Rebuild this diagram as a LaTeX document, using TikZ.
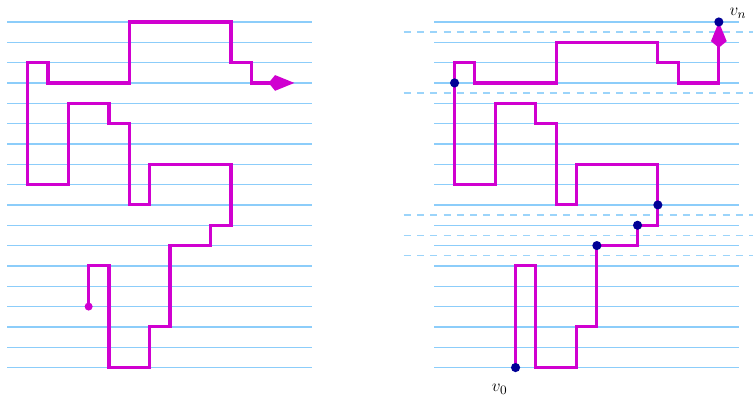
\documentclass[tikz,border=0pt]{standalone}
\usetikzlibrary{arrows.meta}
\definecolor{gridblue}{RGB}{140,205,250}
\definecolor{cutblue}{RGB}{155,212,250}
\definecolor{walk}{RGB}{208,0,208}
\definecolor{vertex}{RGB}{0,0,150}
\begin{document}
\begin{tikzpicture}[x=0.5cm,y=0.5cm,
  gridline/.style={gridblue, line width=0.9pt},
  cutline/.style={cutblue, line width=1pt, dash pattern=on 4.9pt off 4.4pt},
  walkpath/.style={walk, line width=2.2pt, line join=miter},
  kitetip/.style={-{Kite[length=18pt,width=11pt,inset=4.5pt]}},
  vdot/.style={circle, fill=vertex, inner sep=0pt, minimum size=6.4pt},
  sdot/.style={circle, fill=walk, inner sep=0pt, minimum size=5.6pt},
  lbl/.style={font=\fontsize{13}{15}\selectfont, inner sep=0pt}]
\useasboundingbox (-0.36,-1.43) rectangle (36.68,18.08);

% horizontal levels of both panels
\foreach \r in {0,...,17} {
  \draw[gridline] (0,\r) -- (15,\r);
  \draw[gridline] (21,\r) -- (36,\r);
}
% dashed cuts between levels (right panel)
\foreach \r in {5.5,6.5,7.5,13.5,16.5}
  \draw[cutline] (19.5,\r) -- (36.68,\r);

% left panel: the walk
\coordinate (s) at (4,3);
\draw[walkpath, kitetip] (s) -- (4,5) -- (5,5) -- (5,0) -- (7,0) -- (7,2) -- (8,2) -- (8,6)
  -- (10,6) -- (10,7) -- (11,7) -- (11,10) -- (7,10) -- (7,8) -- (6,8) -- (6,12)
  -- (5,12) -- (5,13) -- (3,13) -- (3,9) -- (1,9) -- (1,15) -- (2,15) -- (2,14)
  -- (6,14) -- (6,17) -- (11,17) -- (11,15) -- (12,15) -- (12,14) -- (14.12,14);
\node[sdot] (start) at (s) {};

% right panel: the modified walk
\begin{scope}[xshift=10.5cm]
  \coordinate (a0) at (4,0);
  \coordinate (a1) at (8,6);
  \coordinate (a2) at (10,7);
  \coordinate (a3) at (11,8);
  \coordinate (a4) at (1,14);
  \coordinate (a5) at (14,17);
  \draw[walkpath, kitetip] (a0) -- (4,5) -- (5,5) -- (5,0) -- (7,0) -- (7,2) -- (8,2) -- (a1)
    -- (10,6) -- (a2) -- (11,7) -- (11,10) -- (7,10) -- (7,8) -- (6,8) -- (6,12)
    -- (5,12) -- (5,13) -- (3,13) -- (3,9) -- (1,9) -- (1,15) -- (2,15) -- (2,14)
    -- (6,14) -- (6,16) -- (11,16) -- (11,15) -- (12,15) -- (12,14) -- (14,14) -- (a5);
  \foreach \p in {a0,a1,a2,a3,a4,a5}
    \node[vdot] (d\p) at (\p) {};
  \node[lbl] (v0) at (3.22,-1.08) {$v_0$};
  \node[lbl] (vn) at (14.94,17.42) {$v_n$};
\end{scope}
\end{tikzpicture}
\end{document}
